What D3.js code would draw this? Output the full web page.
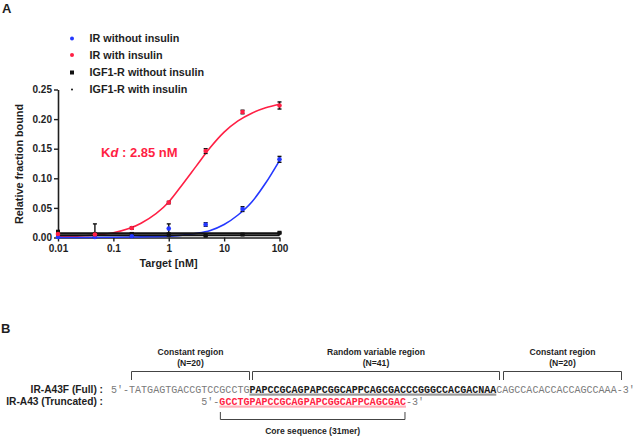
<!DOCTYPE html>
<html>
<head>
<meta charset="utf-8">
<script src="https://cdn.jsdelivr.net/npm/d3@7"></script>
<style>
  body { margin: 0; background: #fff; }
  svg { display: block; }
</style>
</head>
<body>
<svg id="chart" width="641" height="437"></svg>
<script>
// ---- data ----
var conc = [0.01, 0.0464, 0.215, 1, 4.64, 21.5, 100];
var irInsMean = [0.006, 0.005, 0.016, 0.059, 0.146, 0.212, 0.223];
var irInsErr = [0.002, 0.001, 0.002, 0.002, 0.004, 0.003, 0.006];
var irNoMean = [0.001, 0.001, 0.002, 0.015, 0.022, 0.048, 0.132];
var irNoErr = [0.001, 0.001, 0.001, 0.008, 0.003, 0.004, 0.005];
var igfNoMean = [0.008, 0.006, 0.006, 0.005, 0.003, 0.005, 0.008];
var igfNoErr = [0.004, 0.017, 0.002, 0.002, 0.001, 0.001, 0.001];
var igfInsMean = [0.005, 0.005, 0.005, 0.005, 0.005, 0.005, 0.005];

// fitted curves (read as points from the picture)
var fitX = [0.01, 0.0316, 0.1, 0.316, 1, 1.78, 3.16, 5.62, 10, 17.8, 31.6, 56.2, 100];
var irInsFit = [0.001, 0.003, 0.008, 0.024, 0.060, 0.090, 0.121, 0.152, 0.178, 0.197, 0.210, 0.219, 0.225];
var irNoFit = [0.000, 0.000, 0.0003, 0.001, 0.002, 0.004, 0.007, 0.012, 0.022, 0.038, 0.060, 0.092, 0.130];
var igfNoFit = [0.007, 0.007];
var igfInsFit = [0.004, 0.004];
var flatX = [0.01, 100];

var xTicks = [0.01, 0.1, 1, 10, 100];
var xTickLabels = ["0.01", "0.1", "1", "10", "100"];
var yTicks = [0, 0.05, 0.10, 0.15, 0.20, 0.25];

var legendNames = ["IR without insulin", "IR with insulin", "IGF1-R without insulin", "IGF1-R with insulin"];

// panel B text
var seqHeaders = [["Constant region", "(N=20)"], ["Random variable region", "(N=41)"], ["Constant region", "(N=20)"]];
var rowLabels = ["IR-A43F (Full) :", "IR-A43 (Truncated) :"];
var fullConst5 = "TATGAGTGACCGTCCGCCTG";
var fullRandom = "PAPCCGCAGPAPCGGCAPPCAGCGACCCGGGCCACGACNAA";
var fullConst3 = "CAGCCACACCACCAGCCAAA";
var coreSeq = "GCCTGPAPCCGCAGPAPCGGCAPPCAGCGAC";
var coreLabel = "Core sequence (31mer)";

var RED = "#ff1f44";
var BLUE = "#2438ff";
var DARK = "#1e1e1e";
var SANS = "'Liberation Sans', Arial, sans-serif";
var MONO = "'Liberation Mono', 'Courier New', monospace";

var svg = d3.select("#chart");

// ---- panel A ----
svg.append("text").attr("x", 2).attr("y", 13)
    .style("font", "bold 13px " + SANS).attr("fill", DARK).text("A");

var x = d3.scaleLog().domain([0.01, 100]).range([58, 279.5]);
var y = d3.scaleLinear().domain([0, 0.25]).range([237.5, 89.5]);

var yAxis = svg.append("g").attr("transform", "translate(58,0)")
    .call(d3.axisLeft(y).tickValues(yTicks).tickFormat(d3.format(".2f")).tickSize(4).tickSizeOuter(0));
var xAxis = svg.append("g").attr("transform", "translate(0,237.5)")
    .call(d3.axisBottom(x).tickValues(xTicks).tickFormat(function (d, i) { return xTickLabels[i]; }).tickSize(4).tickSizeOuter(0));
[xAxis, yAxis].forEach(function (g) {
    g.select(".domain").attr("stroke", DARK).attr("stroke-width", 1.6);
    g.selectAll(".tick line").attr("stroke", DARK).attr("stroke-width", 1.4);
    g.selectAll(".tick text").style("font", "bold 10px " + SANS).attr("fill", DARK);
});
yAxis.selectAll(".tick text").attr("x", -6);
xAxis.selectAll(".tick text").attr("y", 7);

svg.append("text").attr("transform", "translate(23,164) rotate(-90)")
    .attr("text-anchor", "middle").style("font", "bold 10.8px " + SANS).attr("fill", DARK)
    .text("Relative fraction bound");
svg.append("text").attr("x", 168.5).attr("y", 267).attr("text-anchor", "middle")
    .style("font", "bold 10.8px " + SANS).attr("fill", DARK).text("Target [nM]");

var line = d3.line().x(function (d) { return x(d[0]); }).y(function (d) { return y(d[1]); })
    .curve(d3.curveMonotoneX);
function drawFit(xs, ys, color, w) {
    svg.append("path").datum(d3.zip(xs, ys)).attr("d", line)
        .attr("fill", "none").attr("stroke", color).attr("stroke-width", w);
}
drawFit(fitX, irInsFit, RED, 1.6);
drawFit(fitX, irNoFit, BLUE, 1.6);
drawFit(flatX, igfNoFit, "#111", 2);
drawFit(flatX, igfInsFit, "#111", 2);

function drawErr(means, errs) {
    var g = svg.append("g").attr("stroke", "#111").attr("stroke-width", 1.4);
    conc.forEach(function (c, i) {
        var cx = x(c), y1 = y(means[i] + errs[i]), y0 = y(Math.max(0, means[i] - errs[i]));
        g.append("line").attr("x1", cx).attr("x2", cx).attr("y1", y1).attr("y2", y0);
        g.append("line").attr("x1", cx - 2).attr("x2", cx + 2).attr("y1", y1).attr("y2", y1);
        g.append("line").attr("x1", cx - 2).attr("x2", cx + 2).attr("y1", y0).attr("y2", y0);
    });
}
drawErr(igfNoMean, igfNoErr);
drawErr(irNoMean, irNoErr);
drawErr(irInsMean, irInsErr);

svg.append("g").selectAll("rect").data(d3.zip(conc, igfNoMean)).enter().append("rect")
    .attr("x", function (d) { return x(d[0]) - 2; }).attr("y", function (d) { return y(d[1]) - 2; })
    .attr("width", 4).attr("height", 4).attr("fill", "#111");
svg.append("g").selectAll("circle").data(d3.zip(conc, igfInsMean)).enter().append("circle")
    .attr("cx", function (d) { return x(d[0]); }).attr("cy", function (d) { return y(d[1]); })
    .attr("r", 1).attr("fill", "#111");
svg.append("g").selectAll("circle").data(d3.zip(conc, irNoMean)).enter().append("circle")
    .attr("cx", function (d) { return x(d[0]); }).attr("cy", function (d) { return y(d[1]); })
    .attr("r", 2.3).attr("fill", BLUE);
svg.append("g").selectAll("circle").data(d3.zip(conc, irInsMean)).enter().append("circle")
    .attr("cx", function (d) { return x(d[0]); }).attr("cy", function (d) { return y(d[1]); })
    .attr("r", 2.3).attr("fill", RED);

// legend
var legY = [38.5, 55, 72.5, 89.5];
var leg = svg.append("g");
legendNames.forEach(function (name, i) {
    var my = legY[i];
    if (i === 0) leg.append("circle").attr("cx", 72).attr("cy", my).attr("r", 2).attr("fill", BLUE);
    if (i === 1) leg.append("circle").attr("cx", 72).attr("cy", my).attr("r", 2).attr("fill", RED);
    if (i === 2) leg.append("rect").attr("x", 70).attr("y", my - 2).attr("width", 4).attr("height", 4).attr("fill", "#111");
    if (i === 3) leg.append("circle").attr("cx", 72).attr("cy", my).attr("r", 1).attr("fill", "#111");
    leg.append("text").attr("x", 89.5).attr("y", my + 3.8)
        .style("font", "bold 10.8px " + SANS).attr("fill", DARK).text(name);
});

// Kd annotation
var kd = svg.append("text").attr("x", 101).attr("y", 157)
    .style("font", "bold 13px " + SANS).attr("fill", RED);
kd.append("tspan").text("K");
kd.append("tspan").style("font-style", "italic").text("d");
kd.append("tspan").text(" : 2.85 nM");

// ---- panel B ----
svg.append("text").attr("x", 1).attr("y", 333)
    .style("font", "bold 13px " + SANS).attr("fill", DARK).text("B");

var charW = 6.02;
var seqX0 = 111;
var row1Y = 392.5, row2Y = 404.5;
var col = function (i) { return seqX0 + i * charW; };

var brackets = [[131.5, 249.5], [252.5, 499.5], [503.5, 621.5]];
brackets.forEach(function (b, i) {
    svg.append("path").attr("d", "M" + b[0] + ",380V371.5H" + b[1] + "V380")
        .attr("fill", "none").attr("stroke", "#444").attr("stroke-width", 1);
    var cx = (b[0] + b[1]) / 2;
    svg.append("text").attr("x", cx).attr("y", 354.5).attr("text-anchor", "middle")
        .style("font", "bold 8.6px " + SANS).attr("fill", DARK).text(seqHeaders[i][0]);
    svg.append("text").attr("x", cx).attr("y", 365.5).attr("text-anchor", "middle")
        .style("font", "bold 8.6px " + SANS).attr("fill", DARK).text(seqHeaders[i][1]);
});

rowLabels.forEach(function (t, i) {
    svg.append("text").attr("x", 103).attr("y", i === 0 ? row1Y : row2Y).attr("text-anchor", "end")
        .style("font", "bold 10.2px " + SANS).attr("fill", DARK).text(t);
});

function seqText(xx, yy, str, color, bold) {
    return svg.append("text").attr("x", xx).attr("y", yy)
        .style("font", (bold ? "bold " : "") + "10px " + MONO)
        .attr("textLength", str.length * charW).attr("lengthAdjust", "spacingAndGlyphs")
        .attr("fill", color).text(str);
}

// row 1
var p = 0;
seqText(col(p), row1Y, "5\u2032-" + fullConst5, "#7a7a7a", false);
p += 3 + fullConst5.length;
svg.append("rect").attr("x", col(p)).attr("y", row1Y + 1).attr("width", fullRandom.length * charW)
    .attr("height", 2.2).attr("fill", "#9a9a9a");
seqText(col(p), row1Y, fullRandom, "#1a1a1a", true);
var pEnd = p + fullRandom.length;
seqText(col(pEnd), row1Y, fullConst3 + "-3\u2032", "#7a7a7a", false);

// row 2
var coreStart = 3 + fullConst5.length - 5;
seqText(col(coreStart - 3), row2Y, "5\u2032-", "#7a7a7a", false);
svg.append("rect").attr("x", col(coreStart)).attr("y", row2Y + 1).attr("width", coreSeq.length * charW)
    .attr("height", 2.2).attr("fill", "#ffb0b8");
seqText(col(coreStart), row2Y, coreSeq, RED, true);
seqText(col(coreStart + coreSeq.length), row2Y, "-3\u2032", "#7a7a7a", false);

// core bracket
var cb0 = col(coreStart) + 1, cb1 = col(coreStart + coreSeq.length) - 1;
svg.append("path").attr("d", "M" + cb0 + ",412V419.5H" + cb1 + "V412")
    .attr("fill", "none").attr("stroke", "#444").attr("stroke-width", 1);
svg.append("text").attr("x", (cb0 + cb1) / 2).attr("y", 434).attr("text-anchor", "middle")
    .style("font", "bold 8.6px " + SANS).attr("fill", DARK).text(coreLabel);
</script>
</body>
</html>
